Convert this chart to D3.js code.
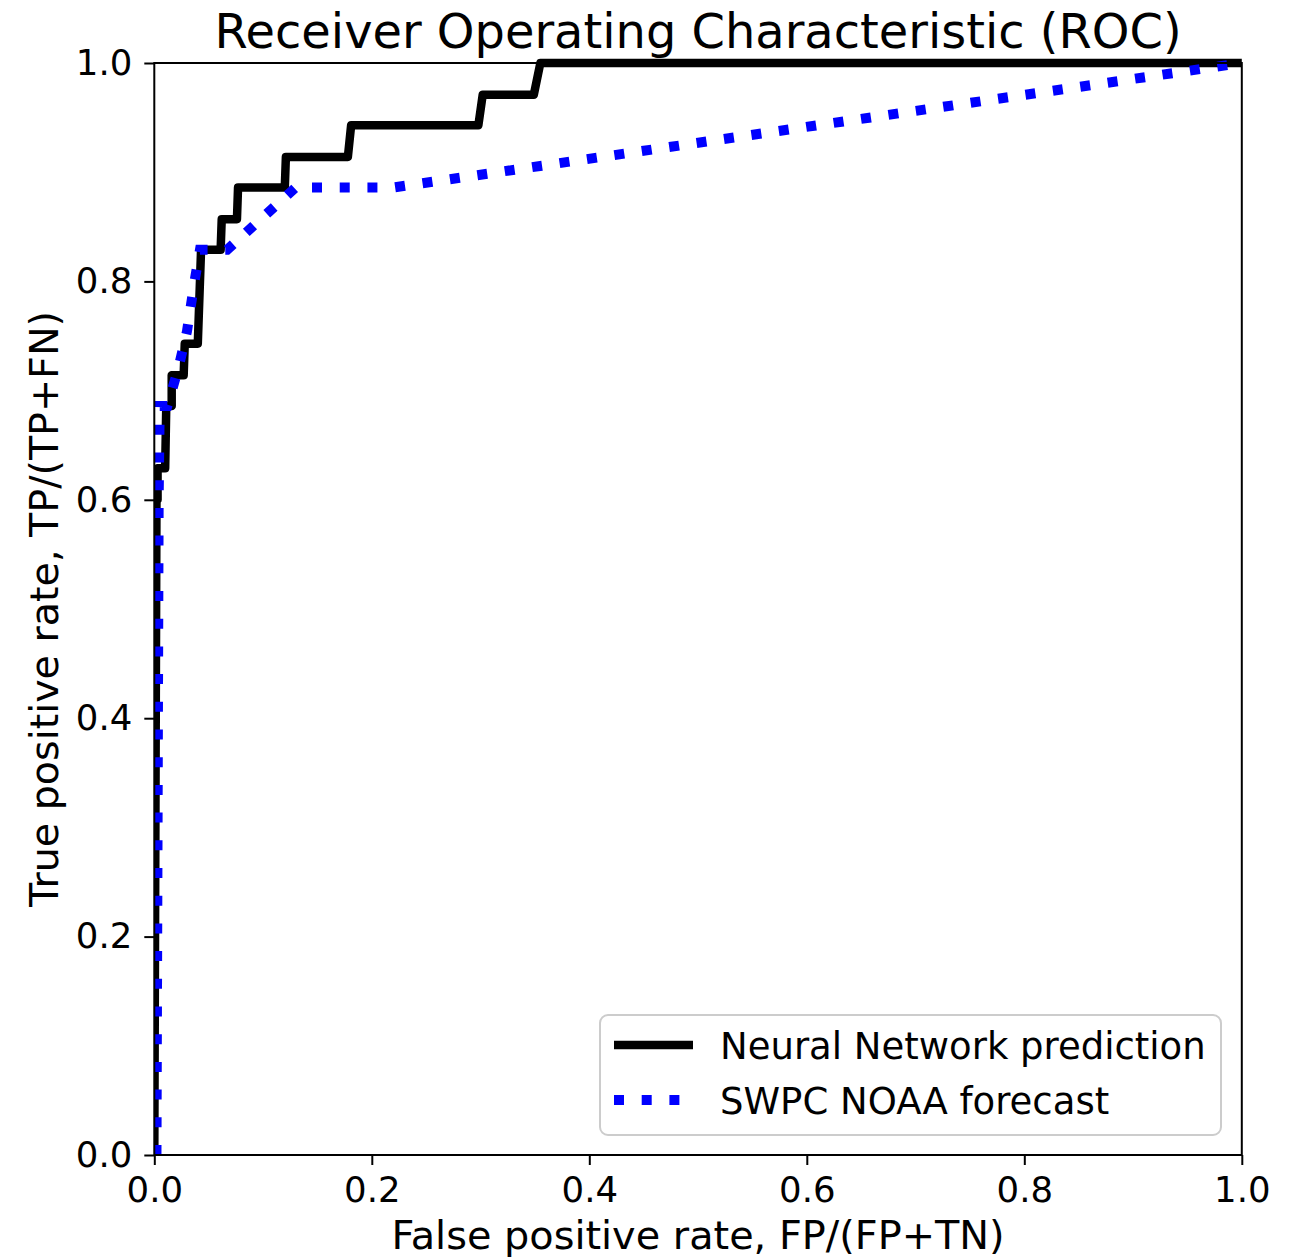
<!DOCTYPE html>
<html>
<head>
<meta charset="utf-8">
<script src="https://cdn.jsdelivr.net/npm/d3@7"></script>
<style>
  body { margin: 0; background: #fff; }
  text { font-family: "DejaVu Sans", sans-serif; fill: #000; }
</style>
</head>
<body>
<svg id="chart" width="1298" height="1257"></svg>
<script>
// ROC points
const nnFpr = [0, 0.002, 0.003, 0.003, 0.010, 0.011, 0.016, 0.016, 0.027, 0.028, 0.040, 0.043, 0.061, 0.062, 0.076, 0.077, 0.120, 0.121, 0.178, 0.181, 0.298, 0.302, 0.349, 0.355, 1.0];
const nnTpr = [0, 0.600, 0.600, 0.629, 0.629, 0.686, 0.686, 0.714, 0.714, 0.743, 0.743, 0.829, 0.829, 0.857, 0.857, 0.886, 0.886, 0.914, 0.914, 0.943, 0.943, 0.971, 0.971, 1.0, 1.0];

const swpcFpr = [0.002, 0.004, 0.005, 0.012, 0.022, 0.030, 0.037, 0.042, 0.067, 0.130, 0.220, 1.0];
const swpcTpr = [0, 0.600, 0.686, 0.686, 0.720, 0.754, 0.800, 0.829, 0.829, 0.886, 0.886, 1.0];

const seriesNames = ["Neural Network prediction", "SWPC NOAA forecast"];
const xTicks = [0, 0.2, 0.4, 0.6, 0.8, 1.0];
const yTicks = [0, 0.2, 0.4, 0.6, 0.8, 1.0];

const margin = {left: 154.3, right: 1241.8, top: 63, bottom: 1155};
const svg = d3.select("#chart");

const x = d3.scaleLinear().domain([0, 1]).range([margin.left, margin.right]);
const y = d3.scaleLinear().domain([0, 1]).range([margin.bottom, margin.top]);

// clip so the curves don't spill over the frame
svg.append("clipPath").attr("id", "plotclip")
  .append("rect")
  .attr("x", margin.left).attr("y", margin.top - 6)
  .attr("width", margin.right - margin.left + 6)
  .attr("height", margin.bottom - margin.top + 6);

const line = d3.line().x(d => x(d[0])).y(d => y(d[1]));

const nnData = nnFpr.map((f, i) => [f, nnTpr[i]]);
const swpcData = swpcFpr.map((f, i) => [f, swpcTpr[i]]);

const plot = svg.append("g").attr("clip-path", "url(#plotclip)");

plot.append("path")
  .datum(nnData)
  .attr("fill", "none")
  .attr("stroke", "#000")
  .attr("stroke-width", 8.5)
  .attr("stroke-linejoin", "round")
  .attr("d", line);

plot.append("path")
  .datum(swpcData)
  .attr("fill", "none")
  .attr("stroke", "#0000ff")
  .attr("stroke-width", 10)
  .attr("stroke-dasharray", "10,17.7")
  .attr("stroke-linecap", "butt")
  .attr("d", line);

// frame
svg.append("rect")
  .attr("x", margin.left).attr("y", margin.top)
  .attr("width", margin.right - margin.left)
  .attr("height", margin.bottom - margin.top)
  .attr("fill", "none")
  .attr("stroke", "#000")
  .attr("stroke-width", 2);

// axes
const xAxis = svg.append("g")
  .attr("transform", `translate(0,${margin.bottom})`)
  .call(d3.axisBottom(x).tickValues(xTicks).tickFormat(d3.format(".1f")).tickSize(10).tickPadding(12));
const yAxis = svg.append("g")
  .attr("transform", `translate(${margin.left},0)`)
  .call(d3.axisLeft(y).tickValues(yTicks).tickFormat(d3.format(".1f")).tickSize(10).tickPadding(12));

[xAxis, yAxis].forEach(a => {
  a.select(".domain").remove();
  a.selectAll(".tick line").attr("stroke", "#000").attr("stroke-width", 2);
  a.selectAll(".tick text")
    .style("font-family", "DejaVu Sans")
    .style("font-size", "35.5px")
    .attr("fill", "#000");
});

// title and labels
svg.append("text")
  .attr("x", (margin.left + margin.right) / 2)
  .attr("y", 48)
  .attr("text-anchor", "middle")
  .style("font-size", "47.9px")
  .text("Receiver Operating Characteristic (ROC)");

svg.append("text")
  .attr("x", (margin.left + margin.right) / 2)
  .attr("y", 1249)
  .attr("text-anchor", "middle")
  .style("font-size", "39.8px")
  .text("False positive rate, FP/(FP+TN)");

svg.append("text")
  .attr("transform", `translate(58,${(margin.top + margin.bottom) / 2}) rotate(-90)`)
  .attr("text-anchor", "middle")
  .style("font-size", "39.6px")
  .text("True positive rate, TP/(TP+FN)");

// legend
const legend = svg.append("g");
legend.append("rect")
  .attr("x", 600).attr("y", 1015)
  .attr("width", 621).attr("height", 120)
  .attr("rx", 8).attr("ry", 8)
  .attr("fill", "#fff").attr("fill-opacity", 0.8)
  .attr("stroke", "#cccccc").attr("stroke-width", 2);

const legendStyles = [
  {stroke: "#000", width: 8.5, dash: null},
  {stroke: "#0000ff", width: 10, dash: "10,17.7"}
];

seriesNames.forEach((name, i) => {
  const ly = 1045 + i * 55;
  legend.append("line")
    .attr("x1", 614).attr("x2", 693)
    .attr("y1", ly).attr("y2", ly)
    .attr("stroke", legendStyles[i].stroke)
    .attr("stroke-width", legendStyles[i].width)
    .attr("stroke-dasharray", legendStyles[i].dash);
  legend.append("text")
    .attr("x", 720).attr("y", ly + 13.5)
    .style("font-size", "37px")
    .text(name);
});
</script>
</body>
</html>
